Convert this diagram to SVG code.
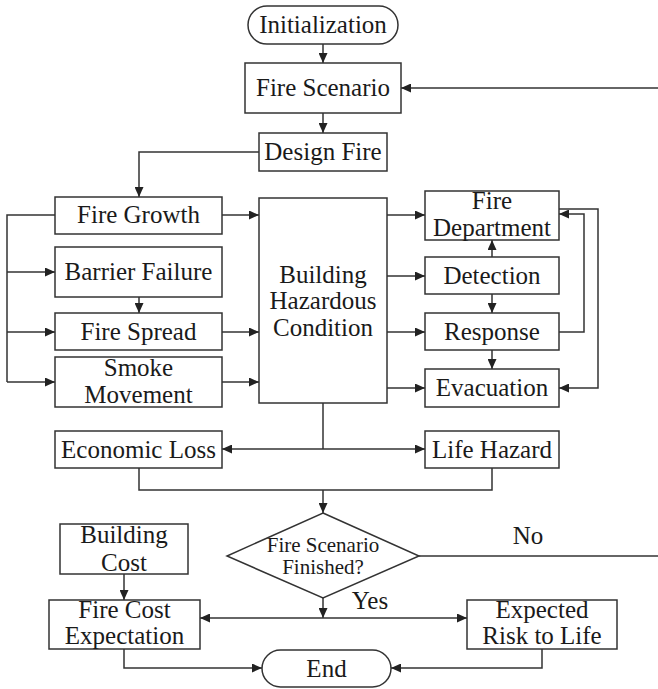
<svg xmlns="http://www.w3.org/2000/svg" width="658" height="689" viewBox="0 0 658 689">
  <style>
    .box { fill: #fff; stroke: #333; stroke-width: 1.5; }
    .t { font-family: "Liberation Serif", "Times New Roman", serif; font-size: 25px; fill: #1a1a1a; text-anchor: middle; }
    .ts { font-family: "Liberation Serif", "Times New Roman", serif; font-size: 21px; fill: #1a1a1a; text-anchor: middle; }
    .ln { fill: none; stroke: #333; stroke-width: 1.5; }
    .arr { fill: none; stroke: #333; stroke-width: 1.5; marker-end: url(#ah); }
  </style>
  <defs>
    <marker id="ah" markerUnits="userSpaceOnUse" markerWidth="11" markerHeight="9" refX="10" refY="4.5" orient="auto">
      <path d="M0,0 L10,4.5 L0,9 z" fill="#222"/>
    </marker>
  </defs>

  <rect width="658" height="689" fill="#fff"/>

  <!-- connectors -->
  <g id="connectors">
    <path class="arr" d="M323,44 V63"/>
    <path class="arr" d="M658,88 H401"/>
    <path class="arr" d="M323,113 V133"/>
    <path class="arr" d="M259,152 H139 V197"/>
    <!-- left distribution bus -->
    <path class="ln" d="M55,215 H7 V382"/>
    <path class="arr" d="M7,272 H55"/>
    <path class="arr" d="M7,332 H55"/>
    <path class="arr" d="M7,382 H55"/>
    <path class="arr" d="M139,297 V313"/>
    <!-- into building condition -->
    <path class="arr" d="M222,215 H259"/>
    <path class="arr" d="M222,332 H259"/>
    <path class="arr" d="M222,382 H259"/>
    <!-- out of building condition -->
    <path class="arr" d="M387,215 H425"/>
    <path class="arr" d="M387,276 H425"/>
    <path class="arr" d="M387,332 H425"/>
    <path class="arr" d="M387,388 H425"/>
    <!-- right column -->
    <path class="arr" d="M492,257 V240"/>
    <path class="arr" d="M492,294 V313"/>
    <path class="arr" d="M492,350 V369"/>
    <path class="arr" d="M559,332 H584 V214 H559"/>
    <path class="arr" d="M559,209 H598 V388 H559"/>
    <!-- consequences -->
    <path class="ln" d="M323,403 V449"/>
    <path class="arr" d="M323,449 H222"/>
    <path class="arr" d="M323,449 H425"/>
    <path class="ln" d="M139,468 V490 H492 V468"/>
    <path class="arr" d="M323,490 V513"/>
    <!-- decision -->
    <path class="ln" d="M419,556 H658"/>
    <path class="arr" d="M323,598 V618"/>
    <path class="arr" d="M323,618 H200"/>
    <path class="arr" d="M323,618 H467"/>
    <path class="arr" d="M124,574 V600"/>
    <path class="arr" d="M124,649 V668 H262"/>
    <path class="arr" d="M542,649 V668 H391"/>
  </g>

  <g id="initialization">
    <rect class="box" x="248" y="6" width="150" height="38" rx="19"/>
    <text class="t" x="323" y="33">Initialization</text>
  </g>
  <g id="fire-scenario">
    <rect class="box" x="245" y="63" width="156" height="50"/>
    <text class="t" x="323" y="96">Fire Scenario</text>
  </g>
  <g id="design-fire">
    <rect class="box" x="259" y="133" width="128" height="38"/>
    <text class="t" x="323" y="160">Design Fire</text>
  </g>
  <g id="fire-growth">
    <rect class="box" x="55" y="197" width="167" height="37"/>
    <text class="t" x="138.5" y="223">Fire Growth</text>
  </g>
  <g id="barrier-failure">
    <rect class="box" x="55" y="247" width="167" height="50"/>
    <text class="t" x="138.5" y="280">Barrier Failure</text>
  </g>
  <g id="fire-spread">
    <rect class="box" x="55" y="313" width="167" height="37"/>
    <text class="t" x="138.5" y="340">Fire Spread</text>
  </g>
  <g id="smoke-movement">
    <rect class="box" x="55" y="357" width="167" height="50"/>
    <text class="t" x="138.5" y="376">Smoke</text>
    <text class="t" x="138.5" y="403">Movement</text>
  </g>
  <g id="building-hazardous-condition">
    <rect class="box" x="259" y="198" width="128" height="205"/>
    <text class="t" x="323" y="283">Building</text>
    <text class="t" x="323" y="309">Hazardous</text>
    <text class="t" x="323" y="336">Condition</text>
  </g>
  <g id="fire-department">
    <rect class="box" x="425" y="191" width="134" height="49"/>
    <text class="t" x="492" y="209">Fire</text>
    <text class="t" x="492" y="236">Department</text>
  </g>
  <g id="detection">
    <rect class="box" x="425" y="257" width="134" height="37"/>
    <text class="t" x="492" y="284">Detection</text>
  </g>
  <g id="response">
    <rect class="box" x="425" y="313" width="134" height="37"/>
    <text class="t" x="492" y="340">Response</text>
  </g>
  <g id="evacuation">
    <rect class="box" x="425" y="369" width="134" height="38"/>
    <text class="t" x="492" y="396">Evacuation</text>
  </g>
  <g id="economic-loss">
    <rect class="box" x="55" y="431" width="167" height="37"/>
    <text class="t" x="138.5" y="458">Economic Loss</text>
  </g>
  <g id="life-hazard">
    <rect class="box" x="425" y="431" width="134" height="37"/>
    <text class="t" x="492" y="458">Life Hazard</text>
  </g>
  <g id="scenario-finished">
    <polygon class="box" points="323,513 419,556 323,598 227,556"/>
    <text class="ts" x="323" y="552">Fire Scenario</text>
    <text class="ts" x="323" y="574">Finished?</text>
  </g>
  <g id="label-no">
    <text class="t" x="528" y="544">No</text>
  </g>
  <g id="label-yes">
    <text class="t" x="370" y="609">Yes</text>
  </g>
  <g id="building-cost">
    <rect class="box" x="60" y="524" width="128" height="50"/>
    <text class="t" x="124" y="543">Building</text>
    <text class="t" x="124" y="571">Cost</text>
  </g>
  <g id="fire-cost-expectation">
    <rect class="box" x="49" y="600" width="151" height="49"/>
    <text class="t" x="124.5" y="618">Fire Cost</text>
    <text class="t" x="124.5" y="644">Expectation</text>
  </g>
  <g id="expected-risk-to-life">
    <rect class="box" x="467" y="600" width="150" height="49"/>
    <text class="t" x="542" y="618">Expected</text>
    <text class="t" x="542" y="644">Risk to Life</text>
  </g>
  <g id="end">
    <rect class="box" x="262" y="650" width="129" height="37" rx="18.5"/>
    <text class="t" x="326.5" y="677">End</text>
  </g>
</svg>
